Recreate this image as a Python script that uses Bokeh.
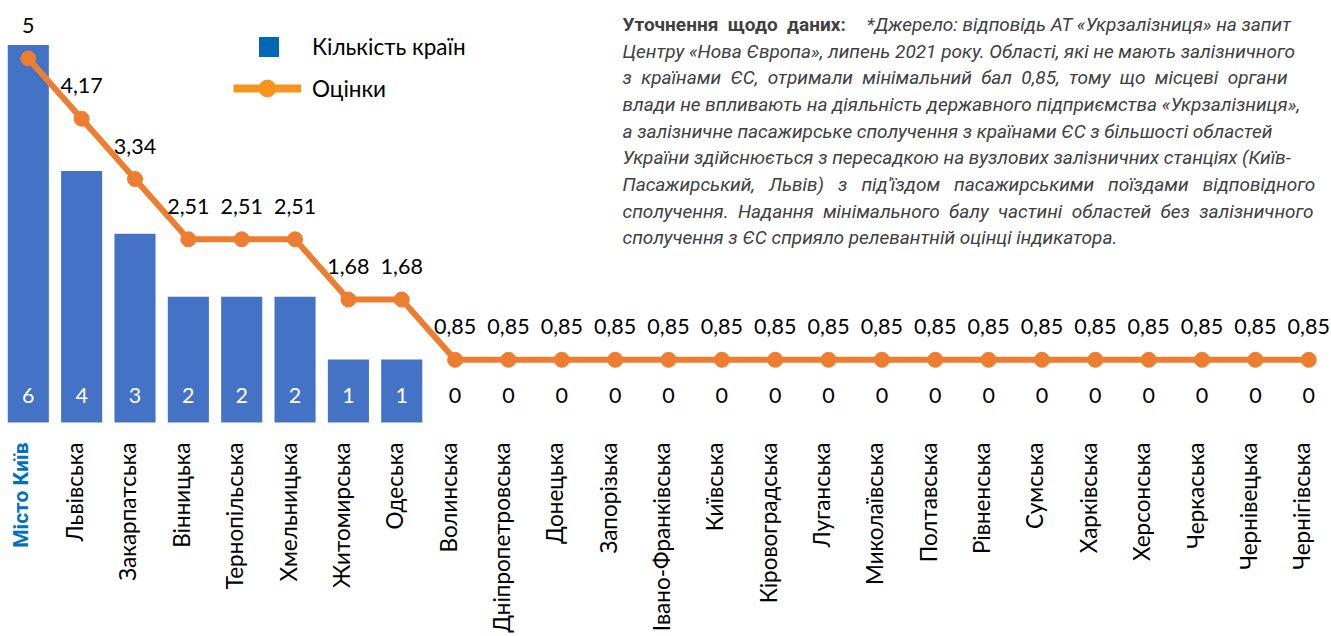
import math
from bokeh.plotting import figure
from bokeh.models import Range1d, ColumnDataSource, Label, Legend, LegendItem
from bokeh.core.properties import value
from bokeh.embed import file_html
from bokeh.resources import INLINE

# ---------------- data ----------------
regions = [
    "Місто Київ", "Львівська", "Закарпатська", "Вінницька", "Тернопільська",
    "Хмельницька", "Житомирська", "Одеська", "Волинська", "Дніпропетровська",
    "Донецька", "Запорізька", "Івано-Франківська", "Київська", "Кіровоградська",
    "Луганська", "Миколаївська", "Полтавська", "Рівненська", "Сумська",
    "Харківська", "Херсонська", "Черкаська", "Чернівецька", "Чернігівська",
]
countries = [6, 4, 3, 2, 2, 2, 1, 1, 0, 0, 0, 0, 0, 0, 0, 0, 0, 0, 0, 0, 0, 0, 0, 0, 0]
scores = [5, 4.17, 3.34, 2.51, 2.51, 2.51, 1.68, 1.68, 0.85, 0.85, 0.85, 0.85, 0.85,
          0.85, 0.85, 0.85, 0.85, 0.85, 0.85, 0.85, 0.85, 0.85, 0.85, 0.85, 0.85]
legend_labels = ["Кількість країн", "Оцінки"]
note_bold = "Уточнення щодо даних:"
note_lines = [
    "*Джерело: відповідь АТ «Укрзалізниця» на запит",
    "Центру «Нова Європа», липень 2021 року. Області, які не мають залізничного",
    "з країнами ЄС, отримали мінімальний бал 0,85, тому що місцеві органи",
    "влади не впливають на діяльність державного підприємства «Укрзалізниця»,",
    "а залізничне пасажирське сполучення з країнами ЄС з більшості областей",
    "України здійснюється з пересадкою на вузлових залізничних станціях (Київ-",
    "Пасажирський, Львів) з під'їздом пасажирськими поїздами відповідного",
    "сполучення. Надання мінімального балу частині областей без залізничного",
    "сполучення з ЄС сприяло релевантній оцінці індикатора.",
]

# ---------------- styling ----------------
W, H = 1331, 636
BAR_COLOR = "#4472C4"
LINE_COLOR = "#ED7D31"
LEG_SQ = "#0068B5"
LEG_LINE = "#F7941D"
FONT = "Lato"
NOTE_FONT = "Roboto"
NOTE_SIZE = "19px"
note_gaps = [0, 0, 1, 0, 0, 0, 2, 1, 0]   # extra spaces (justification look)
bold_gap = 1

x = list(range(len(regions)))
p = figure(width=W, height=H, output_backend="svg", toolbar_location=None,
           x_axis_location=None, y_axis_location=None, min_border=0,
           x_range=Range1d(-0.521, 24.427), y_range=Range1d(-3.402, 6.709))
p.extra_y_ranges = {"score": Range1d(-2.961, 5.799)}
p.outline_line_color = None
p.grid.visible = False
p.background_fill_color = "white"
p.border_fill_color = "white"

src = ColumnDataSource(dict(
    x=x, region=regions, count=countries, score=scores,
    count_txt=[str(c) for c in countries],
    count_col=["white" if c > 0 else "black" for c in countries],
    score_txt=[("%g" % s).replace(".", ",") for s in scores],
    lab_y=[-0.318] * len(x),
    cnt_y=[0.43] * len(x),
))

p.vbar(x="x", top="count", width=0.77, source=src, fill_color=BAR_COLOR, line_color=None)
p.line(x="x", y="score", source=src, y_range_name="score", line_color=LINE_COLOR, line_width=6)
p.scatter(x="x", y="score", source=src, y_range_name="score", size=15,
          fill_color=LINE_COLOR, line_color=LINE_COLOR)

# score labels
p.text(x="x", y="score", text="score_txt", source=src, y_range_name="score", y_offset=-33,
       text_align="center", text_baseline="middle", text_font=value(FONT),
       text_font_size="21.5px", text_color="black")
# count labels
p.text(x="x", y="cnt_y", text="count_txt", source=src, text_color="count_col",
       text_align="center", text_baseline="middle", text_font=value(FONT),
       text_font_size="21.5px")

# category labels
src_first = ColumnDataSource({k: v[:1] for k, v in src.data.items()})
src_rest = ColumnDataSource({k: v[1:] for k, v in src.data.items()})
p.text(x="x", y="lab_y", text="region", source=src_first, angle=math.pi / 2,
       text_align="right", text_baseline="middle", x_offset=-7,
       text_font=value("Roboto"), text_font_size="21px", text_font_style="bold",
       text_color="#0070C0")
p.text(x="x", y="lab_y", text="region", source=src_rest, angle=math.pi / 2,
       text_align="right", text_baseline="middle", x_offset=-7,
       text_font=value(FONT), text_font_size="22.5px", text_color="black")

# legend (custom swatches: hidden single NaN point renderers)
nan = float("nan")
leg_bar = p.vbar(x=[nan], top=[nan], width=0.5, fill_color=LEG_SQ, line_color=None)
leg_line = p.line(x=[nan], y=[nan], line_color=LEG_LINE, line_width=8)
leg_dot = p.scatter(x=[nan], y=[nan], size=16, fill_color=LEG_LINE, line_color=LEG_LINE)

common = dict(padding=0, margin=0, spacing=0, border_line_alpha=0, background_fill_alpha=0,
              label_text_font=FONT, label_text_font_size="22.5px", label_text_color="black")
leg1 = Legend(items=[LegendItem(label=legend_labels[0], renderers=[leg_bar])],
              location=(256, 576), glyph_width=25, glyph_height=25, label_height=25,
              label_standoff=31, **common)
leg2 = Legend(items=[LegendItem(label=legend_labels[1], renderers=[leg_line, leg_dot])],
              location=(233, 527), glyph_width=68, glyph_height=42, label_height=42,
              label_standoff=11, **common)
p.add_layout(leg1)
p.add_layout(leg2)

# note text
def spaced(t, g):
    return t.replace(" ", " " + "\u00a0" * g) if g else t

line_y = [24, 50.7, 77.3, 104, 130.7, 157.3, 184, 210.7, 237.3]
NOTE_COLOR = "#404040"
p.add_layout(Label(x=622, y=H - line_y[0], x_units="screen", y_units="screen",
                   text=spaced(note_bold, bold_gap), text_font=NOTE_FONT, text_font_style="bold",
                   text_font_size=NOTE_SIZE, text_color=NOTE_COLOR, text_baseline="middle"))
for i, t in enumerate(note_lines):
    xx = 866 if i == 0 else 622
    p.add_layout(Label(x=xx, y=H - line_y[i], x_units="screen", y_units="screen",
                       text=spaced(t, note_gaps[i]), text_font=NOTE_FONT,
                       text_font_style="italic", text_font_size=NOTE_SIZE,
                       text_color=NOTE_COLOR, text_baseline="middle"))

open("out.html", "w").write(file_html(p, INLINE))
